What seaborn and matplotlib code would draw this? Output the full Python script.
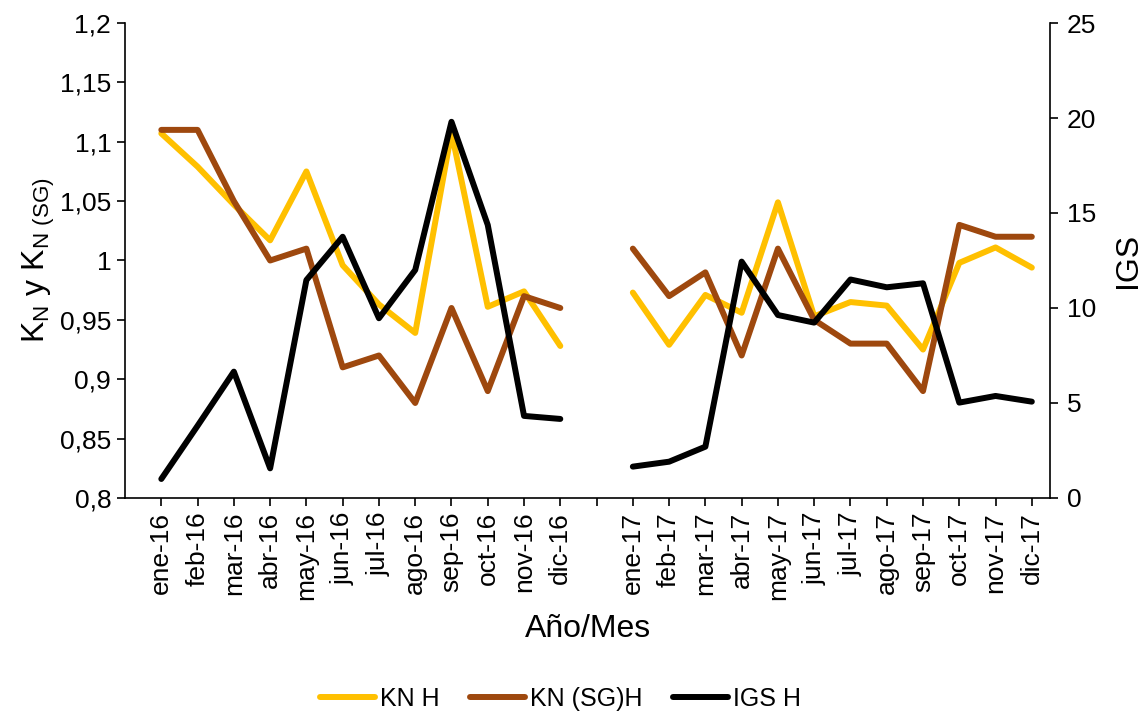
import numpy as np
import pandas as pd
import matplotlib
matplotlib.use("Agg")
import matplotlib.pyplot as plt
from matplotlib.lines import Line2D
from matplotlib.ticker import FuncFormatter
import seaborn as sns


# Data
months = ["ene", "feb", "mar", "abr", "may", "jun",
          "jul", "ago", "sep", "oct", "nov", "dic"]
labels_16 = [m + "-16" for m in months]
labels_17 = [m + "-17" for m in months]

kn_16 = [1.107, 1.079, 1.047, 1.017, 1.075, 0.996,
         0.963, 0.939, 1.108, 0.961, 0.974, 0.928]
kn_17 = [0.973, 0.929, 0.971, 0.956, 1.049, 0.953,
         0.965, 0.962, 0.925, 0.998, 1.011, 0.994]

knsg_16 = [1.110, 1.110, 1.050, 1.000, 1.010, 0.910,
           0.920, 0.880, 0.960, 0.890, 0.970, 0.960]
knsg_17 = [1.010, 0.970, 0.990, 0.920, 1.010, 0.950,
           0.930, 0.930, 0.890, 1.030, 1.020, 1.020]

igs_16 = [1.0, 3.8, 6.65, 1.56, 11.47, 13.75,
          9.46, 12.0, 19.8, 14.37, 4.32, 4.16]
igs_17 = [1.65, 1.91, 2.7, 12.44, 9.63, 9.23,
          11.5, 11.09, 11.3, 5.02, 5.37, 5.07]

tick_labels = labels_16 + [""] + labels_17

colors = {"KN H": "#FFC000", "KN (SG)H": "#9E480E", "IGS H": "#000000"}


# Long table: position 12 is the empty category between years
pos_16 = list(range(12))
pos_17 = list(range(13, 25))

rows = []
for name, v16, v17 in [("KN H", kn_16, kn_17),
                       ("KN (SG)H", knsg_16, knsg_17),
                       ("IGS H", igs_16, igs_17)]:
    for p, v in zip(pos_16, v16):
        rows.append((name, 2016, p, v))
    for p, v in zip(pos_17, v17):
        rows.append((name, 2017, p, v))
df = pd.DataFrame(rows, columns=["serie", "anio", "pos", "valor"])

left_df = df[df["serie"] != "IGS H"]
right_df = df[df["serie"] == "IGS H"]


sns.set_style("white")
plt.rcParams["font.family"] = ["Liberation Sans", "DejaVu Sans"]
plt.rcParams["mathtext.fontset"] = "custom"
plt.rcParams["mathtext.rm"] = "Liberation Sans"
for k in ("text.color", "axes.labelcolor", "xtick.color", "ytick.color"):
    plt.rcParams[k] = "black"

fig = plt.figure(figsize=(11.44, 7.19), dpi=100)
ax = fig.add_axes([0.1093, 0.3074, 0.9178 - 0.1093, 0.968 - 0.3074])
ax2 = ax.twinx()

lw = 4.3

sns.lineplot(
    data=left_df, x="pos", y="valor", hue="serie", units="anio",
    estimator=None, palette=colors, linewidth=lw, legend=False, ax=ax
)
sns.lineplot(
    data=right_df, x="pos", y="valor", hue="serie", units="anio",
    estimator=None, palette=colors, linewidth=lw, legend=False, ax=ax2
)

# Axes
ax.set_xlim(-1.0, 24.5)
ax.set_ylim(0.8, 1.2)
ax2.set_ylim(0, 25)

ax.set_xticks(range(25))
ax.set_xticklabels(tick_labels, rotation=90, fontsize=19)
ax.set_yticks(np.arange(0.8, 1.2001, 0.05))
ax.yaxis.set_major_formatter(
    FuncFormatter(lambda v, _: ("%g" % round(v, 2)).replace(".", ","))
)
ax2.set_yticks(range(0, 26, 5))

ax.tick_params(axis="both", direction="out", length=6, width=1.2,
               color="black", labelsize=19, pad=4, left=True, bottom=True)
ax2.tick_params(axis="y", direction="out", length=6, width=1.2,
                color="black", labelsize=19, pad=6, right=True)

for a in (ax, ax2):
    a.spines["top"].set_visible(False)
    for s in ("left", "right", "bottom"):
        a.spines[s].set_color("black")
        a.spines[s].set_linewidth(1.2)
ax.spines["right"].set_visible(False)
ax2.spines["left"].set_visible(False)
ax2.spines["bottom"].set_visible(False)

ax.set_xlabel("Año/Mes", fontsize=23, labelpad=10)
ax.set_ylabel(r"K$_{\mathregular{N}}$ y K$_{\mathregular{N\ (SG)}}$",
              fontsize=23, labelpad=2)
ax2.set_ylabel("IGS", fontsize=23, labelpad=12)

# Legend
handles = [Line2D([], [], color=c, linewidth=lw, solid_capstyle="round")
           for c in colors.values()]
fig.legend(handles, list(colors.keys()), loc="lower center",
           bbox_to_anchor=(0.49, -0.02), ncol=3, frameon=False,
           fontsize=18, handlelength=2.2, handletextpad=0.2,
           columnspacing=1.2)

plt.savefig("out.png", dpi=100)
